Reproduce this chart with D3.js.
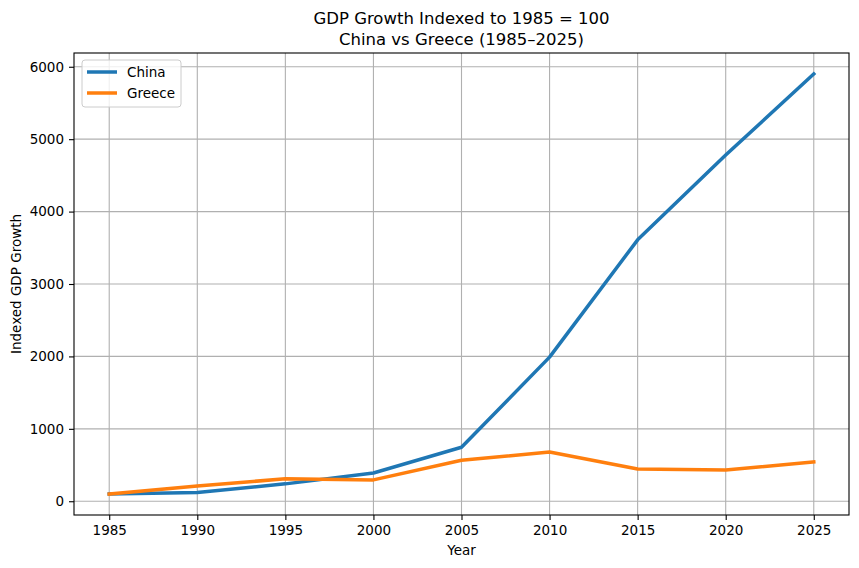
<!DOCTYPE html>
<html>
<head>
<meta charset="utf-8">
<script src="https://cdn.jsdelivr.net/npm/d3@7"></script>
<style>
  body { margin: 0; background: #fff; }
  svg { font-family: "DejaVu Sans", sans-serif; }
</style>
</head>
<body>
<div id="chart"></div>
<script>
// data
var years = [1985, 1990, 1995, 2000, 2005, 2010, 2015, 2020, 2025];
var china = [100, 120, 240, 390, 745, 1990, 3610, 4780, 5900];
var greece = [100, 210, 310, 295, 565, 680, 445, 432, 543];
var yTicks = [0, 1000, 2000, 3000, 4000, 5000, 6000];
var seriesNames = ['China', 'Greece'];
var seriesColors = ['#1f77b4', '#ff7f0e'];

var width = 859, height = 568;
// plot box (note: "top" is taken by window.top)
var pLeft = 74, pRight = 849, pTop = 53, pBottom = 515;

var svg = d3.select('#chart')
            .append('svg')
              .attr('width', width)
              .attr('height', height);

// matplotlib style 5% margins
var xPad = (d3.max(years) - d3.min(years)) * 0.05;
var allVals = china.concat(greece);
var yPad = (d3.max(allVals) - d3.min(allVals)) * 0.05;

var fx = d3.scaleLinear()
           .domain([d3.min(years) - xPad, d3.max(years) + xPad])
           .range([pLeft, pRight]);
var fy = d3.scaleLinear()
           .domain([d3.min(allVals) - yPad, d3.max(allVals) + yPad])
           .range([pBottom, pTop]);

// grid
var grid = svg.append('g');
grid.selectAll('line.gx')
    .data(years).enter()
    .append('line')
      .attr('x1', function(d) { return fx(d); })
      .attr('x2', function(d) { return fx(d); })
      .attr('y1', pTop).attr('y2', pBottom)
      .attr('stroke', '#b0b0b0').attr('stroke-width', 1.1);
grid.selectAll('line.gy')
    .data(yTicks).enter()
    .append('line')
      .attr('y1', function(d) { return fy(d); })
      .attr('y2', function(d) { return fy(d); })
      .attr('x1', pLeft).attr('x2', pRight)
      .attr('stroke', '#b0b0b0').attr('stroke-width', 1.1);

// axes
var xAxis = d3.axisBottom(fx).tickValues(years).tickFormat(d3.format('d'))
              .tickSize(5).tickPadding(5);
var yAxis = d3.axisLeft(fy).tickValues(yTicks).tickFormat(d3.format('d'))
              .tickSize(5).tickPadding(5);

var gx = svg.append('g')
            .attr('transform', 'translate(0,' + pBottom + ')')
            .call(xAxis);
var gy = svg.append('g')
            .attr('transform', 'translate(' + pLeft + ',0)')
            .call(yAxis);
[gx, gy].forEach(function(g) {
    g.select('.domain').remove();
    g.selectAll('.tick line').attr('stroke', '#000').attr('stroke-width', 1.1);
    g.selectAll('.tick text')
        .attr('fill', '#000')
        .style('font-family', '"DejaVu Sans", sans-serif')
        .style('font-size', '13.5px');
});

// lines
var line = d3.line()
             .x(function(d, i) { return fx(years[i]); })
             .y(function(d) { return fy(d); });

[china, greece].forEach(function(s, i) {
    svg.append('path')
        .datum(s)
        .attr('fill', 'none')
        .attr('stroke', seriesColors[i])
        .attr('stroke-width', 3.5)
        .attr('stroke-linejoin', 'round')
        .attr('stroke-linecap', 'square')
        .attr('d', line);
});

// frame
svg.append('rect')
    .attr('x', pLeft).attr('y', pTop)
    .attr('width', pRight - pLeft).attr('height', pBottom - pTop)
    .attr('fill', 'none').attr('stroke', '#000').attr('stroke-width', 1.1);

// titles
svg.append('text')
    .attr('x', (pLeft + pRight) / 2).attr('y', 24)
    .attr('text-anchor', 'middle')
    .style('font-size', '16.5px')
    .text('GDP Growth Indexed to 1985 = 100');
svg.append('text')
    .attr('x', (pLeft + pRight) / 2).attr('y', 45)
    .attr('text-anchor', 'middle')
    .style('font-size', '16.5px')
    .text('China vs Greece (1985–2025)');

svg.append('text')
    .attr('x', (pLeft + pRight) / 2).attr('y', 555)
    .attr('text-anchor', 'middle')
    .style('font-size', '13.5px')
    .text('Year');
svg.append('text')
    .attr('transform', 'translate(21,' + (pTop + pBottom) / 2 + ') rotate(-90)')
    .attr('text-anchor', 'middle')
    .style('font-size', '13.5px')
    .text('Indexed GDP Growth');

// legend
var lg = svg.append('g').attr('transform', 'translate(82,60)');
lg.append('rect')
    .attr('width', 99).attr('height', 47)
    .attr('rx', 3)
    .attr('fill', '#fff').attr('fill-opacity', 0.8)
    .attr('stroke', '#cccccc');
var item = lg.selectAll('g.item')
    .data(seriesNames).enter()
    .append('g')
      .attr('transform', function(d, i) { return 'translate(0,' + (12 + i * 21) + ')'; });
item.append('line')
    .attr('x1', 5).attr('x2', 35)
    .attr('stroke', function(d, i) { return seriesColors[i]; })
    .attr('stroke-width', 3.5);
item.append('text')
    .attr('x', 45).attr('dy', '0.35em')
    .style('font-size', '13.5px')
    .text(function(d) { return d; });
</script>
</body>
</html>
